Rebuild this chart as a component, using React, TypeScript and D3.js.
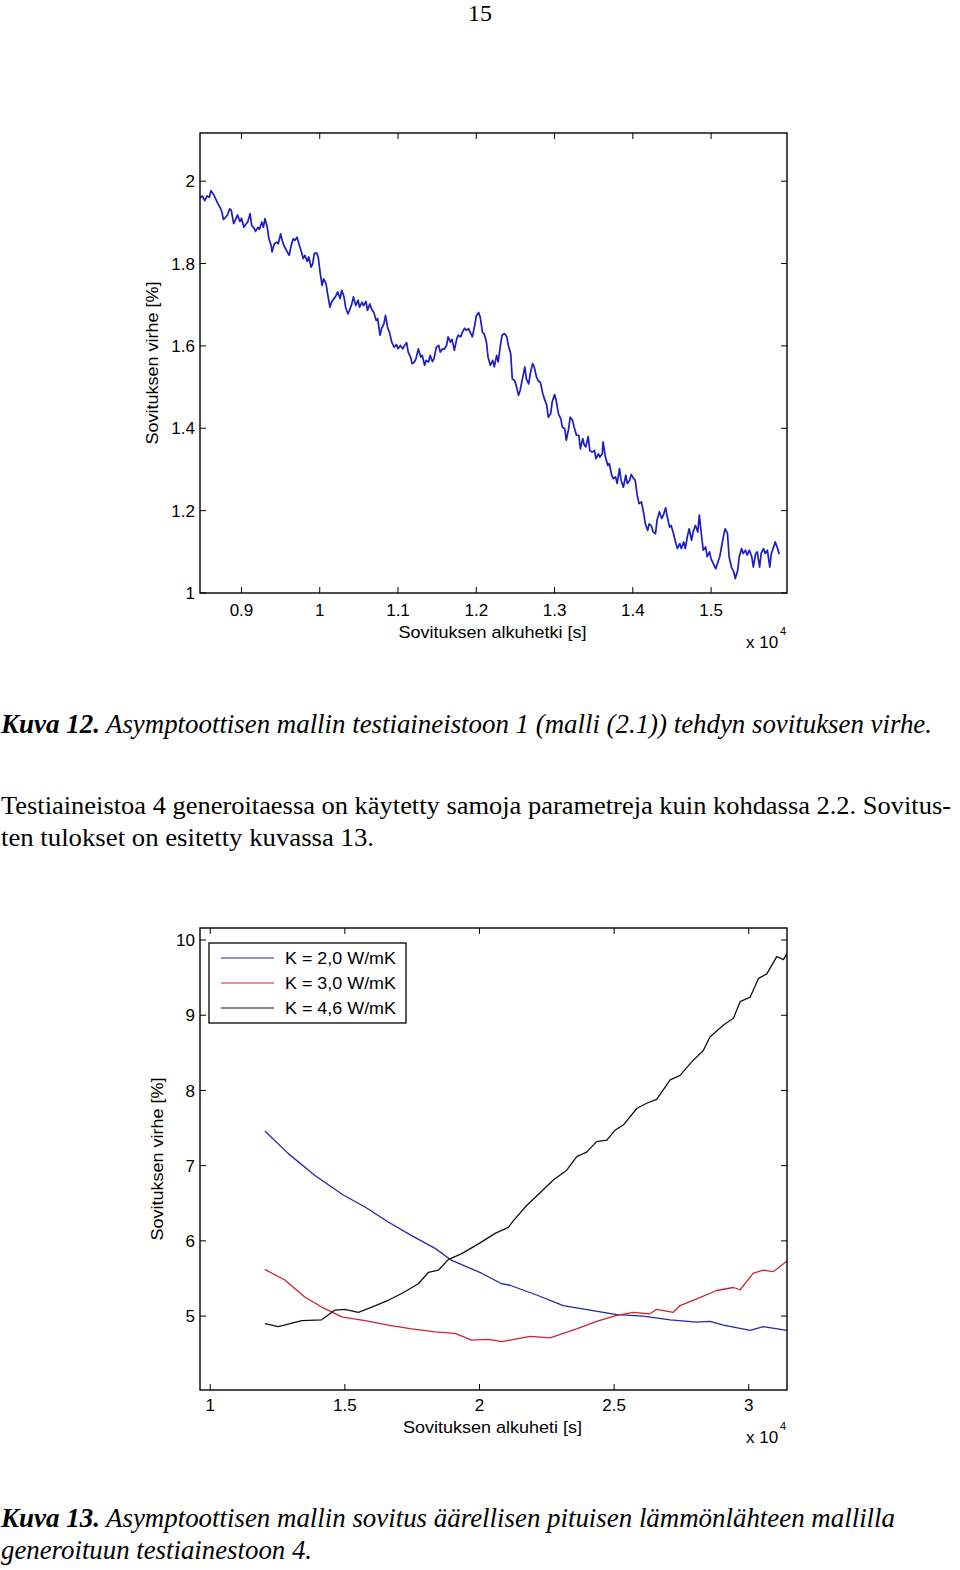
import * as d3 from "d3";

// Kuva 12: single fit-error series, x in units of 10^4 s
const fig12Pts: [number, number][] = [
  [0.847, 1.959], [0.85, 1.964], [0.853, 1.953], [0.856, 1.964], [0.859, 1.961], [0.861, 1.977],
  [0.864, 1.969], [0.867, 1.957], [0.87, 1.945], [0.873, 1.935], [0.875, 1.925], [0.877, 1.907],
  [0.88, 1.913], [0.882, 1.918], [0.885, 1.933], [0.887, 1.929], [0.89, 1.897], [0.893, 1.909],
  [0.895, 1.918], [0.898, 1.902], [0.9, 1.91], [0.903, 1.888], [0.905, 1.894], [0.908, 1.901],
  [0.911, 1.921], [0.913, 1.893], [0.916, 1.886], [0.918, 1.878], [0.921, 1.888], [0.923, 1.883],
  [0.926, 1.901], [0.928, 1.888], [0.93, 1.909], [0.933, 1.888], [0.935, 1.86], [0.938, 1.844],
  [0.939, 1.828], [0.942, 1.848], [0.945, 1.852], [0.947, 1.848], [0.95, 1.872], [0.952, 1.856],
  [0.955, 1.84], [0.957, 1.834], [0.961, 1.82], [0.963, 1.84], [0.966, 1.86], [0.968, 1.856],
  [0.971, 1.864], [0.974, 1.844], [0.976, 1.832], [0.979, 1.812], [0.981, 1.82], [0.984, 1.805],
  [0.986, 1.816], [0.989, 1.791], [0.991, 1.799], [0.993, 1.824], [0.996, 1.826], [0.998, 1.816],
  [1.001, 1.771], [1.003, 1.747], [1.005, 1.763], [1.008, 1.751], [1.01, 1.727], [1.013, 1.694],
  [1.015, 1.706], [1.018, 1.715], [1.02, 1.719], [1.023, 1.731], [1.026, 1.715], [1.028, 1.735],
  [1.031, 1.719], [1.033, 1.694], [1.036, 1.678], [1.038, 1.686], [1.041, 1.702], [1.043, 1.719],
  [1.046, 1.698], [1.049, 1.711], [1.051, 1.694], [1.054, 1.706], [1.056, 1.698], [1.059, 1.708],
  [1.061, 1.686], [1.064, 1.702], [1.066, 1.69], [1.069, 1.682], [1.072, 1.662], [1.074, 1.666],
  [1.077, 1.626], [1.079, 1.642], [1.082, 1.654], [1.084, 1.674], [1.087, 1.642], [1.089, 1.634],
  [1.092, 1.609], [1.095, 1.597], [1.098, 1.603], [1.1, 1.593], [1.103, 1.601], [1.106, 1.593],
  [1.108, 1.6], [1.111, 1.608], [1.113, 1.585], [1.116, 1.573], [1.118, 1.557], [1.121, 1.561],
  [1.123, 1.569], [1.126, 1.593], [1.129, 1.573], [1.131, 1.577], [1.134, 1.553], [1.136, 1.565],
  [1.139, 1.561], [1.141, 1.577], [1.144, 1.562], [1.146, 1.569], [1.149, 1.597], [1.152, 1.601],
  [1.154, 1.585], [1.157, 1.593], [1.159, 1.592], [1.162, 1.601], [1.164, 1.622], [1.167, 1.609],
  [1.169, 1.616], [1.172, 1.589], [1.175, 1.617], [1.177, 1.626], [1.18, 1.622], [1.182, 1.632],
  [1.185, 1.643], [1.187, 1.638], [1.19, 1.642], [1.192, 1.634], [1.195, 1.622], [1.198, 1.65],
  [1.2, 1.672], [1.203, 1.681], [1.205, 1.67], [1.208, 1.632], [1.21, 1.63], [1.213, 1.609],
  [1.215, 1.573], [1.218, 1.553], [1.221, 1.565], [1.223, 1.549], [1.226, 1.577], [1.228, 1.561],
  [1.231, 1.603], [1.233, 1.626], [1.236, 1.63], [1.239, 1.622], [1.241, 1.601], [1.244, 1.581],
  [1.246, 1.52], [1.249, 1.516], [1.251, 1.504], [1.254, 1.48], [1.256, 1.492], [1.259, 1.52],
  [1.262, 1.549], [1.264, 1.52], [1.267, 1.508], [1.269, 1.533], [1.272, 1.557], [1.274, 1.549],
  [1.277, 1.524], [1.279, 1.516], [1.282, 1.511], [1.285, 1.484], [1.287, 1.472], [1.29, 1.456],
  [1.292, 1.427], [1.295, 1.435], [1.297, 1.464], [1.3, 1.482], [1.302, 1.468], [1.305, 1.435],
  [1.308, 1.423], [1.31, 1.403], [1.313, 1.399], [1.315, 1.371], [1.318, 1.399], [1.32, 1.427],
  [1.323, 1.419], [1.325, 1.403], [1.328, 1.383], [1.331, 1.383], [1.333, 1.35], [1.336, 1.375],
  [1.338, 1.359], [1.34, 1.355], [1.343, 1.38], [1.345, 1.346], [1.348, 1.342], [1.351, 1.346],
  [1.353, 1.326], [1.356, 1.338], [1.358, 1.33], [1.361, 1.338], [1.362, 1.367], [1.365, 1.33],
  [1.368, 1.31], [1.37, 1.314], [1.373, 1.286], [1.375, 1.278], [1.378, 1.282], [1.38, 1.266],
  [1.383, 1.302], [1.385, 1.274], [1.388, 1.257], [1.391, 1.286], [1.393, 1.266], [1.396, 1.274],
  [1.398, 1.288], [1.401, 1.278], [1.403, 1.274], [1.406, 1.233], [1.408, 1.217], [1.411, 1.221],
  [1.414, 1.193], [1.416, 1.168], [1.419, 1.152], [1.421, 1.168], [1.424, 1.162], [1.426, 1.148],
  [1.429, 1.144], [1.431, 1.177], [1.434, 1.197], [1.437, 1.181], [1.439, 1.189], [1.442, 1.207],
  [1.444, 1.185], [1.447, 1.16], [1.449, 1.164], [1.452, 1.144], [1.454, 1.128], [1.457, 1.108],
  [1.46, 1.12], [1.462, 1.108], [1.465, 1.124], [1.467, 1.108], [1.47, 1.14], [1.472, 1.156],
  [1.475, 1.128], [1.477, 1.148], [1.48, 1.164], [1.483, 1.148], [1.485, 1.189], [1.488, 1.136],
  [1.49, 1.104], [1.493, 1.112], [1.495, 1.088], [1.498, 1.1], [1.5, 1.083], [1.503, 1.071],
  [1.506, 1.059], [1.508, 1.071], [1.511, 1.088], [1.513, 1.108], [1.516, 1.14], [1.518, 1.156],
  [1.521, 1.144], [1.523, 1.088], [1.526, 1.063], [1.529, 1.051], [1.531, 1.035], [1.534, 1.055],
  [1.536, 1.088], [1.539, 1.108], [1.541, 1.096], [1.544, 1.104], [1.546, 1.092], [1.549, 1.104],
  [1.552, 1.088], [1.554, 1.063], [1.557, 1.096], [1.559, 1.1], [1.562, 1.063], [1.564, 1.096],
  [1.567, 1.108], [1.569, 1.096], [1.572, 1.104], [1.575, 1.063], [1.577, 1.096], [1.58, 1.112],
  [1.582, 1.124], [1.585, 1.108], [1.587, 1.094],
];

// Kuva 13: three conductivity cases
const k20Pts: [number, number][] = [
  [1.203, 7.46], [1.29, 7.16], [1.389, 6.87], [1.494, 6.61], [1.575, 6.45], [1.661, 6.25],
  [1.748, 6.07], [1.835, 5.9], [1.897, 5.74], [2.008, 5.57], [2.082, 5.43], [2.113, 5.41],
  [2.212, 5.28], [2.311, 5.14], [2.41, 5.08], [2.51, 5.02], [2.608, 5.0], [2.708, 4.95],
  [2.807, 4.92], [2.856, 4.93], [2.906, 4.88], [3.005, 4.81], [3.054, 4.86], [3.141, 4.81],
];
const k30Pts: [number, number][] = [
  [1.203, 5.62], [1.277, 5.48], [1.352, 5.25], [1.414, 5.12], [1.488, 4.99], [1.575, 4.94],
  [1.661, 4.88], [1.748, 4.83], [1.835, 4.79], [1.909, 4.77], [1.971, 4.68], [2.033, 4.69],
  [2.082, 4.66], [2.113, 4.68], [2.188, 4.73], [2.262, 4.71], [2.361, 4.83], [2.435, 4.93],
  [2.51, 5.01], [2.571, 5.05], [2.633, 5.03], [2.658, 5.09], [2.72, 5.05], [2.745, 5.14],
  [2.807, 5.23], [2.881, 5.34], [2.943, 5.38], [2.968, 5.35], [3.017, 5.57], [3.054, 5.61],
  [3.091, 5.59], [3.141, 5.73],
];
const k46Pts: [number, number][] = [
  [1.203, 4.9], [1.253, 4.86], [1.34, 4.94], [1.414, 4.95], [1.463, 5.08], [1.5, 5.09],
  [1.55, 5.05], [1.6, 5.12], [1.661, 5.21], [1.711, 5.3], [1.773, 5.43], [1.81, 5.58],
  [1.847, 5.61], [1.884, 5.75], [1.934, 5.83], [1.996, 5.96], [2.058, 6.1], [2.107, 6.18],
  [2.126, 6.27], [2.175, 6.47], [2.225, 6.64], [2.274, 6.81], [2.324, 6.94], [2.361, 7.12],
  [2.398, 7.18], [2.435, 7.32], [2.473, 7.34], [2.503, 7.47], [2.534, 7.54], [2.584, 7.76],
  [2.621, 7.83], [2.658, 7.88], [2.708, 8.14], [2.745, 8.2], [2.788, 8.38], [2.831, 8.53],
  [2.856, 8.71], [2.906, 8.87], [2.943, 8.96], [2.968, 9.18], [3.005, 9.24], [3.036, 9.49],
  [3.067, 9.55], [3.104, 9.78], [3.129, 9.74], [3.141, 9.82],
];

const fig12XTicks = [0.9, 1, 1.1, 1.2, 1.3, 1.4, 1.5];
const fig12YTicks = [1, 1.2, 1.4, 1.6, 1.8, 2];
const fig13XTicks = [1, 1.5, 2, 2.5, 3];
const fig13YTicks = [5, 6, 7, 8, 9, 10];
const legendLabels = ["K = 2,0 W/mK", "K = 3,0 W/mK", "K = 4,6 W/mK"];
const seriesColors = ["#2626a6", "#c8262e", "#111111"];

const SANS = "'Liberation Sans', Arial, sans-serif";
const SERIF = "'Liberation Serif', 'Times New Roman', serif";
const LEFT = 200;
const RIGHT = 787;
const TICK = 6;

interface Series {
  pts: [number, number][];
  color: string;
  width: number;
}

interface PlotProps {
  top: number;
  bottom: number;
  xDomain: [number, number];
  yDomain: [number, number];
  xTicks: number[];
  yTicks: number[];
  tickLabelY: number;
  xLabel: string;
  xLabelY: number;
  xLabelLen: number;
  yLabel: string;
  yLabelX: number;
  series: Series[];
  legend?: string[];
}

function Plot(p: PlotProps) {
  const x = d3.scaleLinear().domain(p.xDomain).range([LEFT, RIGHT]);
  const y = d3.scaleLinear().domain(p.yDomain).range([p.bottom, p.top]);
  const line = d3
    .line<[number, number]>()
    .x((d) => x(d[0]))
    .y((d) => y(d[1]));
  const midY = (p.top + p.bottom) / 2;

  return (
    <g>
      <rect x={LEFT} y={p.top} width={RIGHT - LEFT} height={p.bottom - p.top} fill="#fff" />
      {p.series.map((s, i) => (
        <path key={i} d={line(s.pts) || ""} fill="none" stroke={s.color} strokeWidth={s.width} strokeLinejoin="round" />
      ))}
      {/* ticks on all four sides, pointing inward */}
      {p.xTicks.map((t) => (
        <g key={"xt" + t}>
          <line x1={x(t)} x2={x(t)} y1={p.bottom} y2={p.bottom - TICK} stroke="#000" strokeWidth={1} />
          <line x1={x(t)} x2={x(t)} y1={p.top} y2={p.top + TICK} stroke="#000" strokeWidth={1} />
          <text x={x(t)} y={p.tickLabelY} textAnchor="middle" fontFamily={SANS} fontSize={17}>
            {String(t)}
          </text>
        </g>
      ))}
      {p.yTicks.map((t) => (
        <g key={"yt" + t}>
          <line x1={LEFT} x2={LEFT + TICK} y1={y(t)} y2={y(t)} stroke="#000" strokeWidth={1} />
          <line x1={RIGHT} x2={RIGHT - TICK} y1={y(t)} y2={y(t)} stroke="#000" strokeWidth={1} />
          <text x={LEFT - 5} y={y(t)} dy="0.36em" textAnchor="end" fontFamily={SANS} fontSize={17}>
            {String(t)}
          </text>
        </g>
      ))}
      <rect x={LEFT} y={p.top} width={RIGHT - LEFT} height={p.bottom - p.top} fill="none" stroke="#000" strokeWidth={1.4} />
      <text x={(LEFT + RIGHT) / 2 - 1} y={p.xLabelY} textAnchor="middle" fontFamily={SANS} fontSize={17}
        textLength={p.xLabelLen} lengthAdjust="spacingAndGlyphs">
        {p.xLabel}
      </text>
      <text x={746} y={p.xLabelY + 10} fontFamily={SANS} fontSize={17}>x 10</text>
      <text x={780} y={p.xLabelY - 3} fontFamily={SANS} fontSize={11}>4</text>
      <text transform={`translate(${p.yLabelX},${midY}) rotate(-90)`} textAnchor="middle" fontFamily={SANS}
        fontSize={17} textLength={163} lengthAdjust="spacingAndGlyphs">
        {p.yLabel}
      </text>
      {p.legend && (
        <g>
          <rect x={209} y={p.top + 15} width={197} height={80} fill="#fff" stroke="#000" strokeWidth={1.3} />
          {p.legend.map((lab, i) => {
            const ly = p.top + 30 + i * 25;
            return (
              <g key={lab}>
                <line x1={221} x2={274} y1={ly} y2={ly} stroke={p.series[i].color} strokeWidth={1.2} />
                <text x={285} y={ly} dy="0.36em" fontFamily={SANS} fontSize={17} textLength={111}
                  lengthAdjust="spacingAndGlyphs">
                  {lab}
                </text>
              </g>
            );
          })}
        </g>
      )}
    </g>
  );
}

function Caption({ y, num, rest, restLen }: { y: number; num: string; rest: string; restLen: number }) {
  return (
    <g fontFamily={SERIF} fontSize={27} fontStyle="italic">
      <text x={1} y={y} fontWeight="bold" textLength={99} lengthAdjust="spacingAndGlyphs">{num}</text>
      <text x={106} y={y} textLength={restLen} lengthAdjust="spacingAndGlyphs">{rest}</text>
    </g>
  );
}

export default function App() {
  return (
    <>
      <style>{"body{margin:0}"}</style>
      <svg width={960} height={1570} style={{ display: "block", background: "#fff" }}>
        <rect width={960} height={1570} fill="#fff" />
        <text x={480} y={21} textAnchor="middle" fontFamily={SERIF} fontSize={24}>15</text>

        <Plot
          top={133}
          bottom={593}
          xDomain={[0.847, 1.597]}
          yDomain={[1, 2.117]}
          xTicks={fig12XTicks}
          yTicks={fig12YTicks}
          tickLabelY={616}
          xLabel="Sovituksen alkuhetki [s]"
          xLabelY={638}
          xLabelLen={188}
          yLabel="Sovituksen virhe [%]"
          yLabelX={158}
          series={[{ pts: fig12Pts, color: "#1c1cc4", width: 1.7 }]}
        />

        <Caption y={733} num="Kuva 12." rest="Asymptoottisen mallin testiaineistoon 1 (malli (2.1)) tehdyn sovituksen virhe." restLen={826} />

        <g fontFamily={SERIF} fontSize={25}>
          <text x={1} y={814} textLength={950} lengthAdjust="spacingAndGlyphs">
            Testiaineistoa 4 generoitaessa on käytetty samoja parametreja kuin kohdassa 2.2. Sovitus-
          </text>
          <text x={1} y={846} textLength={373} lengthAdjust="spacingAndGlyphs">
            ten tulokset on esitetty kuvassa 13.
          </text>
        </g>

        <Plot
          top={928}
          bottom={1390}
          xDomain={[0.962, 3.142]}
          yDomain={[4.017, 10.16]}
          xTicks={fig13XTicks}
          yTicks={fig13YTicks}
          tickLabelY={1411}
          xLabel="Sovituksen alkuheti [s]"
          xLabelY={1433}
          xLabelLen={179}
          yLabel="Sovituksen virhe [%]"
          yLabelX={163}
          series={[
            { pts: k20Pts, color: seriesColors[0], width: 1.3 },
            { pts: k30Pts, color: seriesColors[1], width: 1.3 },
            { pts: k46Pts, color: seriesColors[2], width: 1.3 },
          ]}
          legend={legendLabels}
        />

        <Caption y={1527} num="Kuva 13." rest="Asymptoottisen mallin sovitus äärellisen pituisen lämmönlähteen mallilla" restLen={789} />
        <text x={1} y={1559} fontFamily={SERIF} fontSize={27} fontStyle="italic" textLength={311}
          lengthAdjust="spacingAndGlyphs">
          generoituun testiainestoon 4.
        </text>
      </svg>
    </>
  );
}
